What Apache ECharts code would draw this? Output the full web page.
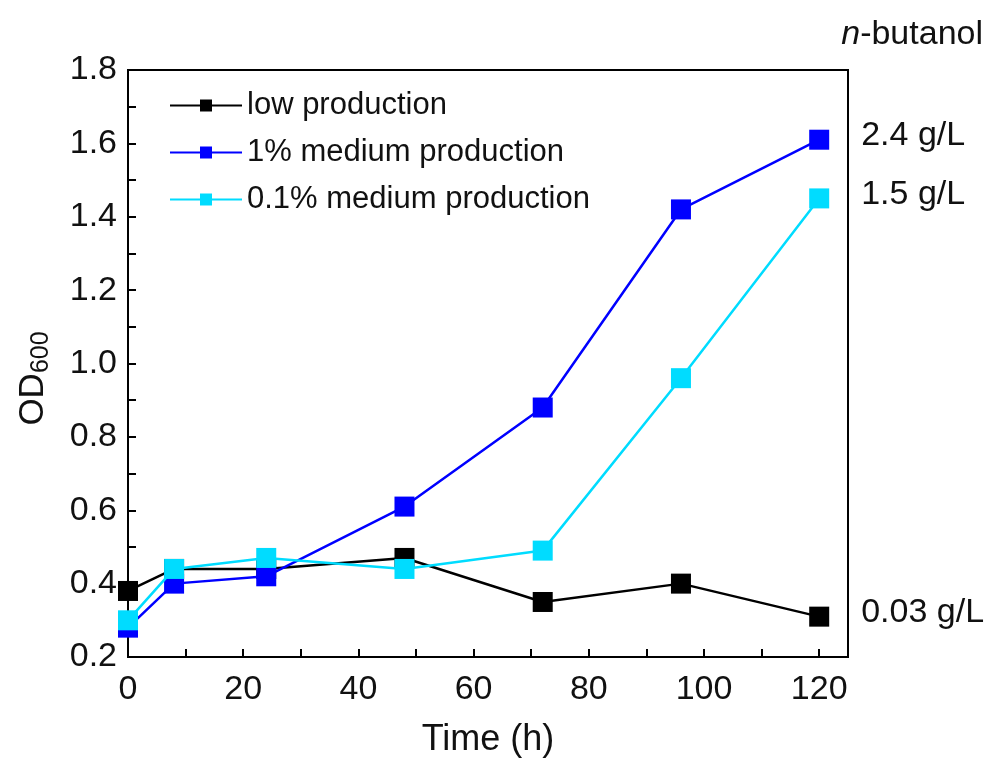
<!DOCTYPE html>
<html><head><meta charset="utf-8">
<script src="https://cdn.jsdelivr.net/npm/echarts@6/dist/echarts.min.js"></script>
<style>html,body{margin:0;padding:0;background:#fff}#c{width:995px;height:759px}</style>
</head><body><div id="c"></div>
<script>
const timeH = [0, 8, 24, 48, 72, 96, 120];
const lowProduction = [0.38, 0.44, 0.44, 0.47, 0.35, 0.40, 0.31];
const med1Production = [0.28, 0.40, 0.42, 0.61, 0.88, 1.42, 1.61];
const med01Production = [0.30, 0.44, 0.47, 0.44, 0.49, 0.96, 1.45];
const seriesNames = ['low production', '1% medium production', '0.1% medium production'];
const endTexts = ['0.03 g/L', '2.4 g/L', '1.5 g/L'];
const colors = ['#000000', '#0000ff', '#00dcff'];
const FONT = 'Liberation Sans, Arial, sans-serif';

const valueSets = [lowProduction, med1Production, med01Production];
const chart = echarts.init(document.getElementById('c'));
chart.setOption({
  animation: false,
  textStyle: { fontFamily: FONT },
  grid: { left: 128, right: 147, top: 70, bottom: 102, outerBoundsMode: 'none', containLabel: false,
    show: true, borderColor: '#000', borderWidth: 2, backgroundColor: 'transparent' },
  legend: {
    orient: 'vertical', left: 164, top: 85, itemWidth: 72, itemHeight: 15, itemGap: 16,
    textStyle: { fontSize: 31, color: '#111', fontFamily: FONT },
    data: seriesNames
  },
  xAxis: {
    type: 'value', min: 0, max: 125, interval: 20,
    name: 'Time (h)', nameLocation: 'middle', nameGap: 65,
    nameTextStyle: { fontSize: 36, color: '#111', fontFamily: FONT },
    axisLine: { lineStyle: { color: '#000', width: 2 } },
    axisTick: { inside: true, length: 8, lineStyle: { color: '#000', width: 2 } },
    minorTick: { show: true, splitNumber: 2, length: 8, lineStyle: { color: '#000', width: 2 } },
    axisLabel: { fontSize: 34, color: '#111', margin: 16, showMaxLabel: false, fontFamily: FONT },
    splitLine: { show: false }
  },
  yAxis: {
    type: 'value', min: 0.2, max: 1.8, interval: 0.2,
    name: '{a|OD}{b|600}', nameLocation: 'middle', nameGap: 74, nameRotate: 90,
    nameTextStyle: { padding: [0, 30, 0, 0], rich: {
      a: { fontSize: 35, color: '#111', fontFamily: FONT },
      b: { fontSize: 25, color: '#111', fontFamily: FONT, padding: [16, 0, 0, 0] }
    } },
    axisLine: { show: true, lineStyle: { color: '#000', width: 2 } },
    axisTick: { inside: true, length: 8, lineStyle: { color: '#000', width: 2 } },
    minorTick: { show: true, splitNumber: 2, length: 8, lineStyle: { color: '#000', width: 2 } },
    axisLabel: { fontSize: 34, color: '#111', margin: 11, fontFamily: FONT, formatter: v => v.toFixed(1) },
    splitLine: { show: false }
  },
  graphic: [{
    type: 'text', right: 12, top: 18,
    style: { text: '{i|n}-butanol', fill: '#111', font: '34px ' + FONT,
      rich: { i: { fontStyle: 'italic', fontSize: 34, fontFamily: FONT, fill: '#111' } } }
  }],
  series: valueSets.map((vals, k) => ({
    name: seriesNames[k], type: 'line', z: 3 + k,
    data: timeH.map((t, i) => [t, vals[i]]),
    symbol: 'rect', symbolSize: 20, showAllSymbol: true,
    itemStyle: { color: colors[k] },
    lineStyle: { color: colors[k], width: 2.5 },
    endLabel: { show: true, formatter: () => endTexts[k], fontSize: 34, color: '#111', distance: 42, offset: [0, -4], fontFamily: FONT },
    emphasis: { disabled: true }
  }))
});
</script></body></html>
